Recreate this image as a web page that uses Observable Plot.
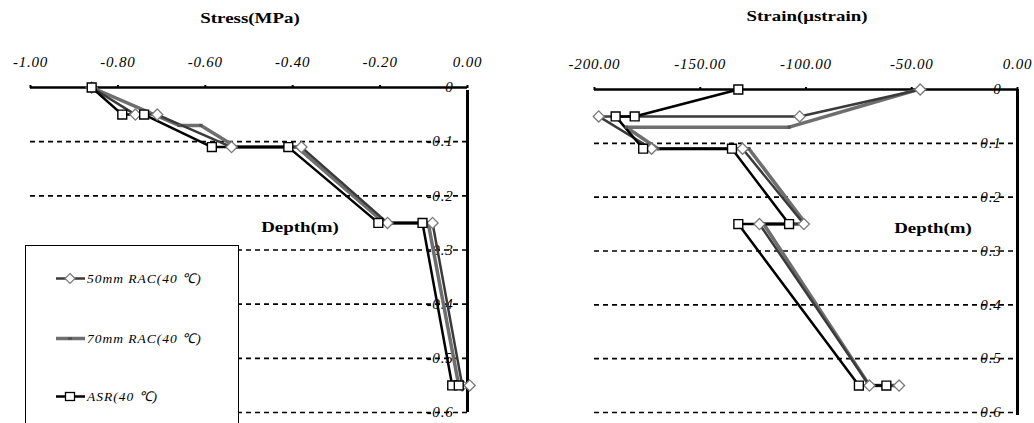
<!DOCTYPE html>
<html><head><meta charset="utf-8">
<script src="https://cdn.jsdelivr.net/npm/d3@7"></script>
<script src="https://cdn.jsdelivr.net/npm/@observablehq/plot@0.6"></script>
<style>
body{margin:0;background:#fff;}
#wrap{position:relative;width:1034px;height:423px;overflow:hidden;background:#fff;}
.panel{position:absolute;top:0;}
.lbl{position:absolute;font-family:"Liberation Serif",serif;font-weight:bold;font-size:14px;line-height:16px;white-space:nowrap;transform:translateX(-50%) scaleX(1.35);}
#legend{position:absolute;left:25px;top:245px;width:214px;height:190px;border:1px solid #000;background:#fff;box-sizing:border-box;}
.item{position:absolute;left:30px;height:16px;display:flex;align-items:center;font-family:"Liberation Serif",serif;font-style:italic;font-size:13.5px;letter-spacing:1px;white-space:nowrap;}
.item svg{margin-right:2px;}
</style></head>
<body><div id="wrap"></div>
<script>
// ---- data ----
const seriesNames = ["50mm RAC(40 ℃)", "70mm RAC(40 ℃)", "ASR(40 ℃)"];
const depth50  = [0, 0.05, 0.05, 0.11, 0.11, 0.25, 0.25, 0.55, 0.55];
const depth70  = [0, 0.07, 0.07, 0.11, 0.11, 0.25, 0.25, 0.55, 0.55];
const depthASR = [0, 0.05, 0.05, 0.11, 0.11, 0.25, 0.25, 0.55, 0.55];
const stress50  = [-0.86, -0.76, -0.71, -0.54, -0.38, -0.183, -0.08, -0.012, 0.005];
const stress70  = [-0.86, -0.66, -0.61, -0.53, -0.39, -0.19, -0.09, -0.02, -0.005];
const stressASR = [-0.86, -0.79, -0.74, -0.585, -0.41, -0.204, -0.103, -0.035, -0.02];
const strain50  = [-46, -103, -198, -173, -130, -101, -122, -70, -56];
const strain70  = [-47, -108, -185, -170, -127, -100, -120, -70, -58];
const strainASR = [-132, -181, -190, -177, -135, -108, -132, -75, -62];
const xTicksL = [-1.0, -0.8, -0.6, -0.4, -0.2, 0.0];
const xTicksR = [-200, -150, -100, -50, 0];
const yTicksL = [0, -0.1, -0.2, -0.3, -0.4, -0.5, -0.6];
const yLabelsL = ["0", "-0.1", "-0.2", "-0.3", "-0.4", "-0.5", "-0.6"];
const yTicksR = [0, 0.1, 0.2, 0.3, 0.4, 0.5, 0.6];
const yLabelsR = ["0", "0.1", "0.2", "0.3", "0.4", "0.5", "0.6"];

function rows(depths, values, name, sign) {
  return values.map((v, i) => ({value: v, depth: sign * depths[i], series: name}));
}
const L50 = rows(depth50, stress50, seriesNames[0], -1);
const L70 = rows(depth70, stress70, seriesNames[1], -1);
const LASR = rows(depthASR, stressASR, seriesNames[2], -1);
const R50 = rows(depth50, strain50, seriesNames[0], 1);
const R70 = rows(depth70, strain70, seriesNames[1], 1);
const RASR = rows(depthASR, strainASR, seriesNames[2], 1);

const style = {fontFamily: "'Liberation Serif', serif", fontSize: "15px", fontStyle: "italic", letterSpacing: "0.8px", background: "white", overflow: "visible"};

function seriesMarks(d50, d70, dASR) {
  return [
    Plot.line(d70, {x: "value", y: "depth", stroke: "#6e6e6e", strokeWidth: 3.5}),
    Plot.line(d50, {x: "value", y: "depth", stroke: "#3a3a3a", strokeWidth: 2.5}),
    Plot.line(dASR, {x: "value", y: "depth", stroke: "#000", strokeWidth: 2.5}),
    Plot.dot(d70, {x: "value", y: "depth", symbol: "square", r: 1.8, fill: "#555", stroke: "none"}),
    Plot.dot(d50, {x: "value", y: "depth", symbol: "diamond2", r: 5, fill: "white", stroke: "#7a7a7a", strokeWidth: 1.3}),
    Plot.dot(dASR, {x: "value", y: "depth", symbol: "square", r: 5, fill: "white", stroke: "#000", strokeWidth: 1.4})
  ];
}

const left = Plot.plot({
  width: 517, height: 423,
  marginLeft: 30, marginRight: 50, marginTop: 87, marginBottom: 11,
  x: {domain: [-1, 0], axis: null},
  y: {domain: [-0.6, 0], axis: null},
  style,
  marks: [
    Plot.ruleY(yTicksL.slice(1), {stroke: "#000", strokeDasharray: "5,4", strokeWidth: 1.6}),
    Plot.text(yTicksL, {x: () => 0, y: d => d, text: (d, i) => yLabelsL[i], dx: -14, textAnchor: "end", fill: "#000"}),
    Plot.ruleY([0], {stroke: "#000", strokeWidth: 2.4}),
    Plot.ruleX([0], {y1: -0.6, y2: 0, stroke: "#000", strokeWidth: 3, insetBottom: -3}),
    Plot.axisX({anchor: "top", label: null, ticks: xTicksL, tickFormat: d => d.toFixed(2), tickSize: 3, tickPadding: 18, stroke: "#000", strokeWidth: 2, fill: "#000"}),
    ...seriesMarks(L50, L70, LASR)
  ]
});

const right = Plot.plot({
  width: 517, height: 423,
  marginLeft: 77, marginRight: 17, marginTop: 89, marginBottom: 11,
  x: {domain: [-200, 0], axis: null},
  y: {domain: [0, 0.6], reverse: true, axis: null},
  style,
  marks: [
    Plot.ruleY(yTicksR.slice(1), {stroke: "#000", strokeDasharray: "5,4", strokeWidth: 1.6}),
    Plot.text(yTicksR, {x: () => 0, y: d => d, text: (d, i) => yLabelsR[i], dx: -16, textAnchor: "end", fill: "#000"}),
    Plot.ruleY([0], {stroke: "#000", strokeWidth: 2.4}),
    Plot.ruleX([0], {y1: 0, y2: 0.6, stroke: "#000", strokeWidth: 3, insetBottom: -3}),
    Plot.axisX({anchor: "top", label: null, ticks: xTicksR, tickFormat: d => d.toFixed(2), tickSize: 3, tickPadding: 18, stroke: "#000", strokeWidth: 2, fill: "#000"}),
    ...seriesMarks(R50, R70, RASR)
  ]
});

const wrap = document.getElementById("wrap");
left.classList.add("panel"); left.style.left = "0px";
right.classList.add("panel"); right.style.left = "517px";
wrap.appendChild(left); wrap.appendChild(right);

function label(text, cx, cy) {
  const d = document.createElement("div");
  d.className = "lbl"; d.textContent = text;
  d.style.left = cx + "px"; d.style.top = (cy - 8) + "px";
  wrap.appendChild(d);
}
label("Stress(MPa)", 250, 19);
label("Strain(μstrain)", 807, 17);
label("Depth(m)", 300, 228);
label("Depth(m)", 933, 229);

// legend
const lg = document.createElement("div"); lg.id = "legend"; wrap.appendChild(lg);
const legendDefs = [
  {name: seriesNames[0], line: "#3a3a3a", w: 2.5, marker: "diamond"},
  {name: seriesNames[1], line: "#6e6e6e", w: 3.5, marker: "dash"},
  {name: seriesNames[2], line: "#000", w: 2.5, marker: "square"}
];
const legendY = [277, 337, 395];
legendDefs.forEach((s, i) => {
  const it = document.createElement("div"); it.className = "item";
  it.style.top = (legendY[i] - 245 - 8) + "px";
  let m = "";
  if (s.marker === "diamond") m = '<path d="M14,3.5L19,8.5L14,13.5L9,8.5Z" fill="white" stroke="#7a7a7a" stroke-width="1.2"/>';
  if (s.marker === "square") m = '<rect x="9.5" y="4.5" width="9" height="8" fill="white" stroke="#000" stroke-width="1.3"/>';
  if (s.marker === "dash") m = '<rect x="12" y="7" width="4" height="3" fill="#555"/>';
  it.innerHTML = '<svg width="29" height="16"><line x1="0" y1="8.5" x2="29" y2="8.5" stroke="' + s.line + '" stroke-width="' + s.w + '"/>' + m + '</svg><span>' + s.name + '</span>';
  lg.appendChild(it);
});
</script>
</body></html>
